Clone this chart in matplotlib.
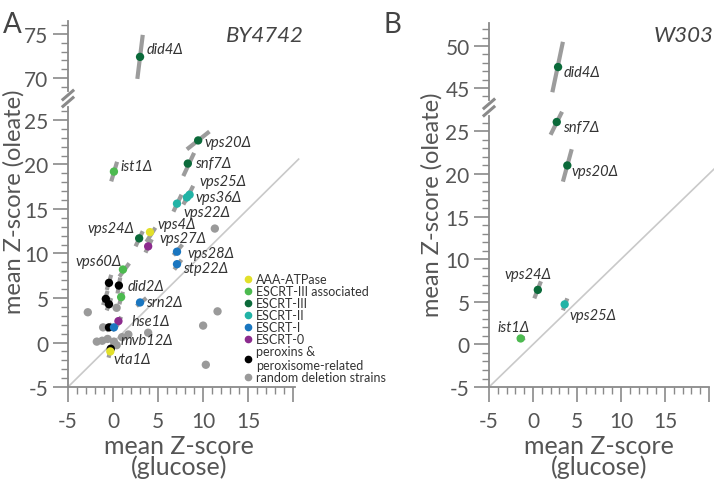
import numpy as np
import matplotlib.pyplot as plt
from matplotlib.lines import Line2D

plt.rcParams['font.family'] = ['Lato', 'DejaVu Sans']
plt.rcParams['axes.unicode_minus'] = False

# colours of the strain groups
group_names = ['AAA-ATPase', 'ESCRT-III associated', 'ESCRT-III', 'ESCRT-II',
               'ESCRT-I', 'ESCRT-0', 'peroxins &\nperoxisome-related',
               'random deletion strains']
group_colors = ['#e2e02a', '#4cba4f', '#0b6a3a', '#22b3a6',
                '#1a76c0', '#8c2b8e', '#000000', '#9a9a9a']

# ---- panel A: BY4742 ----
a_names = ['did4Δ', 'vps20Δ', 'snf7Δ', 'ist1Δ', 'vps25Δ', 'vps36Δ', 'vps22Δ',
           'vps24Δ', 'vps4Δ', 'vps27Δ', 'vps28Δ', 'stp22Δ', 'vps60Δ', 'did2Δ',
           'srn2Δ', 'hse1Δ', 'mvb12Δ', 'vta1Δ']
a_glu = [3.0, 9.45, 8.3, 0.1, 8.5, 8.2, 7.1, 2.9, 4.1, 3.9, 7.1, 7.1, 1.1, 0.9,
         3.0, 0.6, 0.1, -0.3]
a_ole = [72.4, 22.7, 20.1, 19.2, 16.6, 16.3, 15.6, 11.7, 12.4, 10.8, 10.2, 8.8,
         8.2, 5.1, 4.5, 2.4, 1.7, -1.0]
a_group = [2, 2, 2, 1, 3, 3, 3, 2, 0, 5, 4, 4, 1, 1, 4, 5, 4, 0]
# error segments: glucose low/high, oleate low/high
a_err_glu = [(2.7, 3.3), (8.2, 10.7), (7.8, 9.0), (-0.2, 0.45), (8.0, 8.9),
             (7.8, 8.6), (6.7, 7.6), (2.5, 3.3), (3.7, 4.7), (3.6, 4.3),
             (6.7, 7.7), (6.8, 7.6), (0.7, 1.8), (0.7, 1.1), (2.6, 3.7),
             (0.4, 0.9), (-0.1, 0.3), (-0.5, -0.2)]
a_err_ole = [(69.9, 74.9), (21.7, 23.7), (18.7, 21.3), (18.1, 20.3), (15.8, 17.6),
             (15.5, 17.0), (14.7, 16.6), (10.8, 12.5), (11.3, 12.9), (10.1, 11.6),
             (9.8, 11.0), (8.2, 9.3), (7.4, 8.9), (4.3, 5.7), (4.1, 5.0),
             (1.8, 2.9), (1.3, 2.0), (-1.7, -0.6)]

a_pex_glu = [-0.45, 0.65, -0.8, -0.45, -0.45, -0.25]
a_pex_ole = [6.7, 6.4, 4.9, 4.3, 1.7, -0.7]
a_pex_err_glu = [(-0.7, -0.2), (0.5, 0.8), (-1.1, -0.6), (-0.7, -0.2), (-0.8, -0.1), (-0.5, 0.0)]
a_pex_err_ole = [(5.9, 7.6), (5.5, 7.3), (4.2, 5.8), (3.6, 5.0), (1.3, 2.1), (-1.2, -0.3)]

a_rand_glu = [-2.8, 0.4, 3.9, -1.8, -1.2, -0.6, 0.1, 1.0, 0.4, 1.7, -1.1,
              10.0, 11.6, 10.3, 11.3]
a_rand_ole = [3.4, 3.9, 1.1, 0.1, 0.2, 0.4, 0.1, 0.6, -0.3, 0.9, 1.7,
              1.9, 3.5, -2.5, 12.8]

# ---- panel B: W303 ----
b_names = ['did4Δ', 'snf7Δ', 'vps20Δ', 'vps24Δ', 'vps25Δ', 'ist1Δ']
b_glu = [2.85, 2.7, 3.9, 0.55, 3.6, -1.4]
b_ole = [47.5, 26.1, 21.0, 6.4, 4.7, 0.7]
b_group = [2, 2, 2, 2, 3, 1]
b_err_glu = [(2.2, 3.4), (2.0, 3.3), (3.4, 4.4), (0.15, 0.9), (3.4, 3.9), (-1.8, -0.9)]
b_err_ole = [(44.5, 50.5), (24.6, 27.3), (19.1, 22.9), (5.4, 7.4), (4.0, 5.4), (0.6, 0.75)]

# where each label sits (data coords) and its alignment
a_label_pos = {'did4Δ': (3.7, 73.3, 'left'), 'vps20Δ': (10.1, 22.5, 'left'),
               'snf7Δ': (9.1, 20.2, 'left'), 'ist1Δ': (0.8, 19.8, 'left'),
               'vps25Δ': (9.55, 18.1, 'left'), 'vps36Δ': (9.2, 16.3, 'left'),
               'vps22Δ': (7.8, 14.7, 'left'), 'vps24Δ': (2.4, 12.9, 'right'),
               'vps4Δ': (4.9, 13.3, 'left'), 'vps27Δ': (5.2, 11.7, 'left'),
               'vps28Δ': (8.3, 10.0, 'left'), 'stp22Δ': (7.8, 8.4, 'left'),
               'vps60Δ': (1.0, 9.2, 'right'), 'did2Δ': (1.6, 6.3, 'left'),
               'srn2Δ': (3.7, 4.5, 'left'), 'hse1Δ': (2.1, 2.4, 'left'),
               'mvb12Δ': (0.8, 0.3, 'left'), 'vta1Δ': (0.0, -1.9, 'left')}
b_label_pos = {'did4Δ': (3.5, 46.9, 'left'), 'snf7Δ': (3.4, 25.5, 'left'),
               'vps20Δ': (4.4, 20.4, 'left'), 'vps24Δ': (-3.2, 8.3, 'left'),
               'vps25Δ': (4.2, 3.4, 'left'), 'ist1Δ': (-4.0, 2.1, 'left')}

AX_GREY = '#8a8a8a'
TXT = '#555555'
ERR_GREY = '#9c9c9c'

fig = plt.figure(figsize=(7.14, 4.81), dpi=100)


def style_axis(ax, xlim, ylim, major_y, minor_y, show_x):
    ax.set_xlim(*xlim)
    ax.set_ylim(*ylim)
    ax.patch.set_alpha(0)
    for s in ['top', 'right']:
        ax.spines[s].set_visible(False)
    ax.spines['left'].set_color(AX_GREY)
    ax.spines['left'].set_linewidth(1.3)
    ax.set_yticks(major_y)
    ax.set_yticks(minor_y, minor=True)
    ax.set_yticklabels([str(v) for v in major_y])
    if show_x:
        ax.spines['bottom'].set_color(AX_GREY)
        ax.spines['bottom'].set_linewidth(1.3)
        ax.set_xticks([-5, 0, 5, 10, 15, 20])
        ax.set_xticklabels(['-5', '0', '5', '10', '15', ''])
        ax.set_xticks(np.arange(-5, 21, 1), minor=True)
    else:
        ax.spines['bottom'].set_visible(False)
        ax.set_xticks([])
        ax.set_xticks([], minor=True)
    ax.tick_params(which='major', length=11, width=1.2, color=AX_GREY,
                   labelsize=15, labelcolor=TXT, pad=3)
    ax.tick_params(axis='x', which='major', pad=6)
    ax.tick_params(which='minor', length=5, width=1.0, color=AX_GREY)


def draw_panel(ax_lo, ax_hi, split, names, gx, gy, groups, eg, eo, label_pos):
    for i in range(len(names)):
        ax = ax_hi if gy[i] > split else ax_lo
        ax.plot(eg[i], eo[i], color=ERR_GREY, lw=3, solid_capstyle='butt',
                zorder=2, clip_on=False)
    for i in range(len(names)):
        ax = ax_hi if gy[i] > split else ax_lo
        ax.scatter(gx[i], gy[i], s=36, color=group_colors[groups[i]],
                   edgecolors='none', zorder=4, clip_on=False)
        lx, ly, ha = label_pos[names[i]]
        ax.text(lx, ly, names[i], style='italic', fontsize=10.5, color='#333333',
                ha=ha, va='center', zorder=5, clip_on=False)


def break_marks(ax_lo, ax_hi):
    x0 = ax_lo.get_position().x0
    y_lo = ax_lo.get_position().y1
    y_hi = ax_hi.get_position().y0
    for f in (0.3, 0.75):
        yc = y_lo + (y_hi - y_lo) * f
        fig.add_artist(Line2D([x0 - 0.007, x0 + 0.007], [yc - 0.009, yc + 0.009],
                              color=AX_GREY, lw=2.2, transform=fig.transFigure))


# ---- panel A axes ----
axA = fig.add_axes([0.0952, 0.1933, 0.318, 0.583])
axA_hi = fig.add_axes([0.0952, 0.8083, 0.318, 0.1464])
style_axis(axA, (-5, 20.2), (-5, 26.5), list(range(-5, 26, 5)), np.arange(-5, 27, 1), True)
style_axis(axA_hi, (-5, 20.2), (68.5, 76.5), [70, 75], np.arange(69, 77, 1), False)
axA.plot([-5, 20.6], [-5, 20.6], color='#c9c9c9', lw=1.2, zorder=1, clip_on=False)

for i in range(len(a_pex_glu)):
    axA.plot(a_pex_err_glu[i], a_pex_err_ole[i], color=ERR_GREY, lw=3,
             solid_capstyle='butt', zorder=2, clip_on=False)
axA.scatter(a_rand_glu, a_rand_ole, s=36, color=group_colors[7],
            edgecolors='none', zorder=3, clip_on=False)
axA.scatter(a_pex_glu, a_pex_ole, s=36, color=group_colors[6],
            edgecolors='none', zorder=3, clip_on=False)
draw_panel(axA, axA_hi, 50, a_names, a_glu, a_ole, a_group, a_err_glu, a_err_ole, a_label_pos)
break_marks(axA, axA_hi)

handles = [Line2D([], [], marker='o', ls='', color=c, markersize=4.5) for c in group_colors]
fig.legend(handles, group_names, loc='upper left', bbox_to_anchor=(0.333, 0.443),
           frameon=False, fontsize=9, handlelength=0.6, handletextpad=0.35,
           labelspacing=0.0, borderpad=0, labelcolor='#333333')

# ---- panel B axes ----
axB = fig.add_axes([0.6849, 0.1933, 0.308, 0.5634])
axB_hi = fig.add_axes([0.6849, 0.7904, 0.308, 0.159])
style_axis(axB, (-5, 20), (-5, 26.8), list(range(-5, 26, 5)), np.arange(-5, 27, 1), True)
style_axis(axB_hi, (-5, 20), (43.6, 52.7), [45, 50], np.arange(44, 53, 1), False)
axB.plot([-5, 20.8], [-5, 20.8], color='#c9c9c9', lw=1.2, zorder=1, clip_on=False)
draw_panel(axB, axB_hi, 35, b_names, b_glu, b_ole, b_group, b_err_glu, b_err_ole, b_label_pos)
break_marks(axB, axB_hi)

# ---- texts ----
for xc in (0.251, 0.839):
    fig.text(xc, 0.05, 'mean Z-score\n(glucose)', ha='center', va='center',
             fontsize=18, color=TXT, linespacing=0.88)
fig.text(0.0195, 0.58, 'mean Z-score (oleate)', rotation=90, ha='center',
         va='center', fontsize=17, color=TXT)
fig.text(0.605, 0.575, 'mean Z-score (oleate)', rotation=90, ha='center',
         va='center', fontsize=17, color=TXT)
fig.text(0.004, 0.975, 'A', fontsize=20, color='#444444', va='top')
fig.text(0.537, 0.975, 'B', fontsize=20, color='#444444', va='top')
fig.text(0.316, 0.925, 'BY4742', style='italic', fontsize=16, color='#444444', va='center')
fig.text(0.915, 0.925, 'W303', style='italic', fontsize=16, color='#444444', va='center')

fig.savefig('out.png', dpi=100)
